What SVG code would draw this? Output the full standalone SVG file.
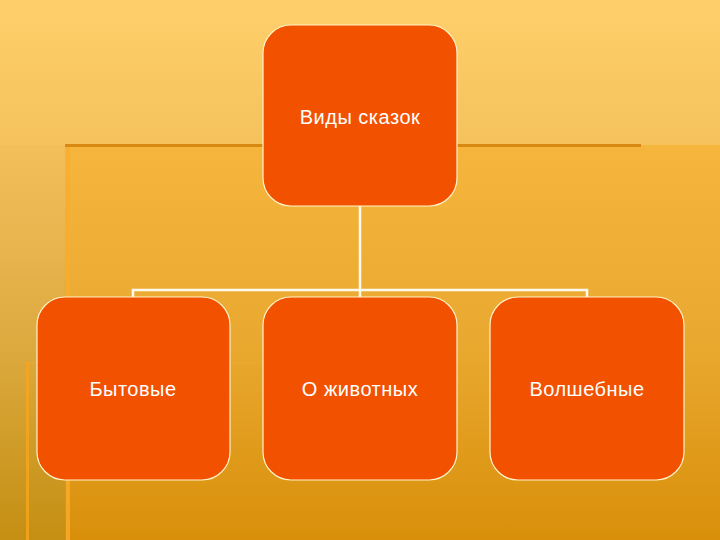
<svg xmlns="http://www.w3.org/2000/svg" width="720" height="540" viewBox="0 0 720 540">
<defs>
<linearGradient id="bg" x1="0" y1="0" x2="0" y2="1">
<stop offset="0" stop-color="#fecf6b"/>
<stop offset="0.27" stop-color="#f5c25c"/>
<stop offset="0.6" stop-color="#ecab35"/>
<stop offset="1" stop-color="#d88f08"/>
</linearGradient>
<linearGradient id="inner" x1="0" y1="0" x2="0" y2="1">
<stop offset="0" stop-color="#f6b63e"/>
<stop offset="0.5" stop-color="#e9a930"/>
<stop offset="1" stop-color="#d98f0a"/>
</linearGradient>
<linearGradient id="leftstrip" x1="0" y1="0" x2="0" y2="1">
<stop offset="0" stop-color="#f2bf5c"/>
<stop offset="0.5" stop-color="#ddaa40"/>
<stop offset="1" stop-color="#c48f12"/>
</linearGradient>
</defs>
<style>
.node{fill:#f25100;stroke:#fff3c8;stroke-width:1.2}
.lbl{font-family:"Liberation Sans",Arial,sans-serif;font-size:20px;letter-spacing:0.5px;fill:#ffffff;text-anchor:middle}
.conn{stroke:#fffaf0;stroke-width:2.5;fill:none}
</style>
<rect x="0" y="0" width="720" height="540" fill="url(#bg)"/>
<rect x="0" y="145" width="65" height="395" fill="url(#leftstrip)"/>
<rect x="65" y="145" width="655" height="395" fill="url(#inner)"/>
<rect x="65" y="144" width="576" height="3" fill="#d98812"/>
<rect x="66" y="147" width="4" height="393" fill="#fbab2a" opacity="0.8"/>
<rect x="26" y="362" width="3" height="178" fill="#f9a51c" opacity="0.8"/>
<rect x="26" y="362" width="236" height="2" fill="#f0a830" opacity="0.5"/>
<g id="connectors">
<path class="conn" d="M360 206 V297 M133 297 V290 H587 V297"/>
</g>
<g id="root">
<rect class="node" x="263" y="25" width="194" height="181" rx="28"/>
<text class="lbl" x="360" y="124">Виды сказок</text>
</g>
<g id="n1">
<rect class="node" x="37" y="297" width="193" height="183" rx="28"/>
<text class="lbl" x="133" y="396">Бытовые</text>
</g>
<g id="n2">
<rect class="node" x="263" y="297" width="194" height="183" rx="28"/>
<text class="lbl" x="360" y="396">О животных</text>
</g>
<g id="n3">
<rect class="node" x="490" y="297" width="194" height="183" rx="28"/>
<text class="lbl" x="587" y="396">Волшебные</text>
</g>
</svg>
